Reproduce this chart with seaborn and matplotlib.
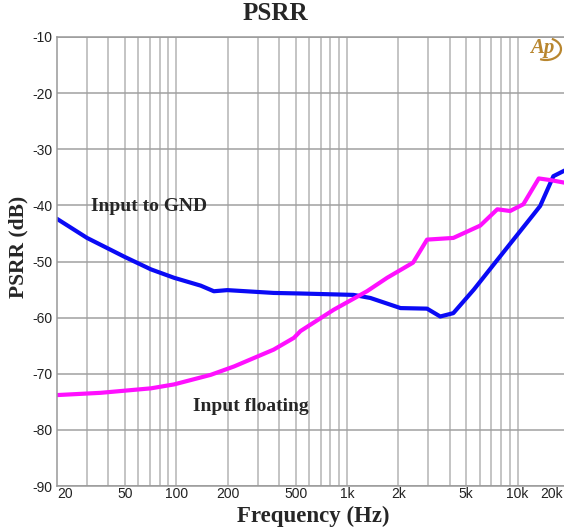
import numpy as np
import pandas as pd
import matplotlib
matplotlib.use("Agg")
import matplotlib.pyplot as plt
import matplotlib.transforms as mtrans
from matplotlib.patches import Arc
import seaborn as sns
from matplotlib.ticker import FixedLocator, MultipleLocator, NullFormatter
from matplotlib import font_manager

# ---- data ----
gnd_freq = [20, 30, 50, 71, 97, 139, 166, 199, 372, 534, 1092, 1372, 2060, 2946,
            3520, 4200, 5540, 7940, 12400, 13560, 16200, 20000]
gnd_db = [-42.4, -45.8, -49.2, -51.4, -52.9, -54.3, -55.3, -55.1, -55.6, -55.7,
          -55.95, -56.5, -58.3, -58.4, -59.8, -59.2, -55.0, -49.0, -41.6, -40.1,
          -34.8, -33.4]

flt_freq = [20, 36, 71, 97, 159, 218, 372, 489, 534, 836, 1310, 1720, 2440, 2946,
            4200, 6040, 7600, 9040, 10800, 13300, 15600, 20000]
flt_db = [-73.8, -73.4, -72.6, -71.9, -70.2, -68.7, -65.7, -63.6, -62.4, -58.6,
          -55.3, -52.9, -50.2, -46.1, -45.8, -43.6, -40.7, -41.0, -39.8, -35.2,
          -35.5, -36.1]

series_names = ["Input to GND", "Input floating"]
series_colors = ["#0a0af5", "#ff10ff"]

x_ticks = [20, 50, 100, 200, 500, 1000, 2000, 5000, 10000, 20000]
x_ticklabels = ["20", "50", "100", "200", "500", "1k", "2k", "5k", "10k", "20k"]
x_grid = [30, 40, 50, 60, 70, 80, 90, 100, 200, 300, 400, 500, 600, 700, 800, 900,
          1000, 2000, 3000, 4000, 5000, 6000, 7000, 8000, 9000, 10000, 20000]
y_ticks = [-90, -80, -70, -60, -50, -40, -30, -20, -10]

df = pd.concat([
    pd.DataFrame({"freq": gnd_freq, "db": gnd_db, "series": series_names[0]}),
    pd.DataFrame({"freq": flt_freq, "db": flt_db, "series": series_names[1]}),
])

sns.set_style("white")
names = {f.name for f in font_manager.fontManager.ttflist}
tick_family = ["Liberation Sans Narrow", "Liberation Sans", "DejaVu Sans"] \
    if "Liberation Sans Narrow" in names else ["Liberation Sans", "DejaVu Sans"]
plt.rcParams["font.family"] = tick_family

W, H = 564, 527
fig = plt.figure(figsize=(W / 100, H / 100), dpi=100)
ax = fig.add_axes([57 / W, 41 / H, 512 / W, 449 / H])

sns.lineplot(data=df, x="freq", y="db", hue="series", palette=series_colors,
             hue_order=series_names, linewidth=3.0, ax=ax, legend=False,
             sort=False, estimator=None)

ax.set_xscale("log")
ax.set_xlim(20, 20000)
ax.set_ylim(-90, -10)

# grid
for f in x_grid:
    ax.axvline(f, color="#b4b4b4", lw=1.1, zorder=0)
for y in y_ticks:
    ax.axhline(y, color="#a0a0a0", lw=1.1, zorder=0)

ax.set_xticks(x_ticks)
ax.set_xticklabels(x_ticklabels)
ax.xaxis.set_minor_locator(FixedLocator([]))
ax.xaxis.set_minor_formatter(NullFormatter())
ax.set_yticks(y_ticks)
ax.set_yticklabels([str(v) for v in y_ticks])
ax.yaxis.set_minor_locator(MultipleLocator(1))
ax.tick_params(axis="x", which="both", length=0, pad=1, labelsize=10, colors="#222222")
ax.tick_params(axis="y", which="major", length=0, pad=3, labelsize=10, colors="#222222")
ax.tick_params(axis="y", which="minor", length=4, direction="in", color="#888888", width=0.8)

labs = ax.get_xticklabels()
labs[0].set_horizontalalignment("left")
labs[-1].set_horizontalalignment("right")
labs[-1].set_transform(labs[-1].get_transform() +
                       mtrans.ScaledTranslation(-6 / 100, 0, fig.dpi_scale_trans))

for s in ["left", "bottom", "top"]:
    ax.spines[s].set_color("#999999")
    ax.spines[s].set_linewidth(1.1)
ax.spines["right"].set_visible(False)

ax.set_xlabel("Frequency (Hz)", family="Liberation Serif", fontweight="bold",
              fontsize=16.5, labelpad=3)
ax.set_ylabel("PSRR (dB)", family="Liberation Serif", fontweight="bold",
              fontsize=15.5)
ax.yaxis.set_label_coords(-0.056, 0.532)
fig.text(275 / W, 1 - 14 / H, "PSRR", family="Liberation Serif", fontweight="bold",
         fontsize=18, ha="center", va="center")

ax.text(69, -40.2, series_names[0], family="Liberation Serif", fontweight="bold",
        fontsize=14, ha="center", va="center")
ax.text(272, -75.9, series_names[1], family="Liberation Serif", fontweight="bold",
        fontsize=14, ha="center", va="center")

# Ap logo
logo_color = "#b8862e"
fig.text(542 / W, 1 - 48 / H, "Ap", family="Liberation Serif", fontstyle="italic",
         fontweight="bold", fontsize=15, color=logo_color, ha="center", va="center")
fig.patches.append(Arc((546, H - 49), 30, 22, theta1=-120, theta2=60,
                       transform=None, color=logo_color, lw=1.6, figure=fig))

fig.savefig("out.png", dpi=100)
